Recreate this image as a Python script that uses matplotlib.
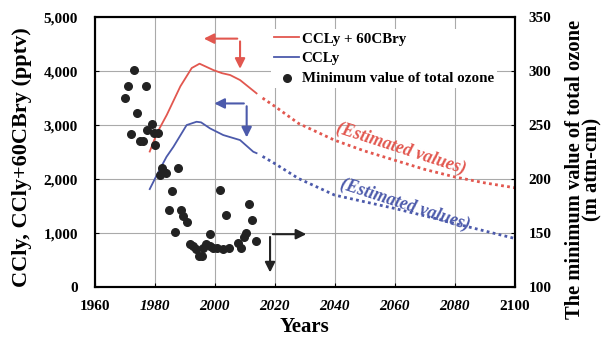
import matplotlib
matplotlib.use('Agg')
import matplotlib.pyplot as plt

plt.rcParams['font.family'] = ['Liberation Serif', 'DejaVu Serif']
plt.rcParams['font.weight'] = 'bold'

# CCly + 60CBry (pptv), observed and estimated
red_anos = [1978.4, 1980.8, 1984.1, 1988.6, 1992.4, 1995.0, 1999.6, 2002.5, 2005.2, 2008.5, 2014.0]
red_vals = [2510, 2850, 3190, 3716, 4056, 4136, 4018, 3960, 3926, 3833, 3587]
red_est_anos = [2016, 2020, 2028, 2040, 2050, 2060, 2070, 2080, 2090, 2100]
red_est_vals = [3500, 3350, 3030, 2720, 2520, 2350, 2180, 2040, 1930, 1840]

# CCly (pptv)
blue_anos = [1978.4, 1980.8, 1984.0, 1986.3, 1990.7, 1994.0, 1995.5, 1998.5, 2002.9, 2008.5, 2012.9, 2014.0]
blue_vals = [1815, 2080, 2413, 2598, 3000, 3061, 3050, 2938, 2815, 2722, 2506, 2480]
blue_est_anos = [2016, 2020, 2028, 2040, 2050, 2060, 2070, 2080, 2090, 2100]
blue_est_vals = [2420, 2290, 2010, 1704, 1580, 1457, 1320, 1180, 1040, 902]

# Minimum value of total ozone (m atm-cm)
ozono_anos = [1970, 1971, 1973, 1974, 1972, 1975, 1976, 1977, 1977.6, 1979, 1979.8, 1981,
              1980, 1981.7, 1982.6, 1983, 1983.8, 1987.8, 1985.9, 1984.9, 1986.8, 1988.7,
              1989.6, 1990.9, 1991.9, 1992.8, 1993.8, 1994.7, 1995.7, 1996.1, 1997.1, 1998.4,
              1998.4, 1999.6, 2000.8, 2001.8, 2002.7, 2003.7, 2004.8, 2007.8, 2008.7, 2009.8,
              2010.6, 2011.4, 2012.6, 2013.7]
ozono_vals = [275, 286, 301, 261, 242, 235, 235, 286, 245, 251, 243, 243,
              232, 204, 210, 207, 206, 210, 189, 171, 151, 171,
              166, 160, 140, 138, 135, 129, 129, 136, 140, 149,
              138, 136, 136, 190, 135, 167, 136, 141, 136, 146,
              150, 177, 162, 143]

cor_vermelho = '#e2574f'
cor_azul = '#4c5aab'

fig = plt.figure(figsize=(6.04, 3.37), dpi=100)
ax = fig.add_axes([0.1565, 0.148, 0.6955, 0.8015])
ax2 = ax.twinx()

# Linhas observadas e estimadas
ax.plot(red_anos, red_vals, color=cor_vermelho, lw=1.3, label='CCLy + 60CBry')
ax.plot(red_est_anos, red_est_vals, color=cor_vermelho, lw=2, ls=(0, (1, 1.2)))
ax.plot(blue_anos, blue_vals, color=cor_azul, lw=1.3, label='CCLy')
ax.plot(blue_est_anos, blue_est_vals, color=cor_azul, lw=2, ls=(0, (1, 1.2)))

# Pontos de ozonio no eixo da direita
ax2.scatter(ozono_anos, ozono_vals, s=30, color='#222222', zorder=3)
ax.scatter([], [], s=30, color='#222222', label='Minimum value of total ozone')

ax.set_xlim(1960, 2100)
ax.set_ylim(0, 5000)
ax2.set_ylim(100, 350)
ax.set_xticks(range(1960, 2101, 20))
ax.set_yticks(range(0, 5001, 1000))
ax.set_yticklabels([f'{v:,}' for v in range(0, 5001, 1000)])
ax2.set_yticks(range(100, 351, 50))

ax.grid(True, color='#aaaaaa', lw=0.8)
ax.set_axisbelow(True)
for a in (ax, ax2):
    for s in a.spines.values():
        s.set_linewidth(1.5)
    a.tick_params(direction='in', length=3, labelsize=11)
ax.tick_params(axis='x', pad=9)
ax.tick_params(axis='y', pad=12)
ax2.tick_params(axis='y', pad=10)

for lbl in ax.get_xticklabels():
    lbl.set_fontweight('bold')
    if lbl.get_text() not in ('1960', '2100'):
        lbl.set_fontstyle('italic')
for lbl in ax.get_yticklabels() + ax2.get_yticklabels():
    lbl.set_fontweight('bold')

ax.set_xlabel('Years', fontsize=15, fontweight='bold', labelpad=3)
# Rotulos verticais posicionados na figura
fig.text(22 / 604, 1 - 157 / 337, 'CCly, CCly+60CBry (pptv)', fontsize=16,
         fontweight='bold', rotation=90, ha='center', va='center')
fig.text(584 / 604, 1 - 169 / 337, 'The minimum value of total ozone\n(m atm-cm)',
         fontsize=14.8, fontweight='bold', rotation=90, ha='center', va='center',
         multialignment='center', linespacing=0.8)

leg = ax.legend(loc='upper left', bbox_to_anchor=(0.42, 0.955), frameon=True, fontsize=10.8,
                handlelength=1.7, handletextpad=0.15, labelspacing=0.4, borderpad=0.2,
                borderaxespad=0)
leg.get_frame().set_edgecolor('none')
leg.get_frame().set_facecolor('white')
leg.get_frame().set_alpha(1)
for t in leg.get_texts():
    t.set_fontweight('bold')

# Setas indicando os eixos
def seta_l(canto, cabeca_h, cabeca_v, cor):
    ax.annotate('', xy=cabeca_h, xytext=canto,
                arrowprops=dict(arrowstyle='-|>', color=cor, lw=1.5, mutation_scale=15))
    ax.annotate('', xy=cabeca_v, xytext=canto,
                arrowprops=dict(arrowstyle='-|>', color=cor, lw=1.5, mutation_scale=15))

seta_l((2008.5, 4600), (1995.5, 4600), (2008.5, 3990), cor_vermelho)
seta_l((2010.7, 3400), (1999.0, 3400), (2010.7, 2720), cor_azul)
seta_l((2018.5, 980), (2031.5, 980), (2018.5, 220), '#222222')

ax.text(2062, 2570, '(Estimated values)', color=cor_vermelho, fontsize=12.8,
        fontweight='bold', fontstyle='italic', rotation=-18, ha='center', va='center')
ax.text(2063.5, 1530, '(Estimated values)', color=cor_azul, fontsize=12.8,
        fontweight='bold', fontstyle='italic', rotation=-18, ha='center', va='center')

fig.savefig('out.png', dpi=100)
